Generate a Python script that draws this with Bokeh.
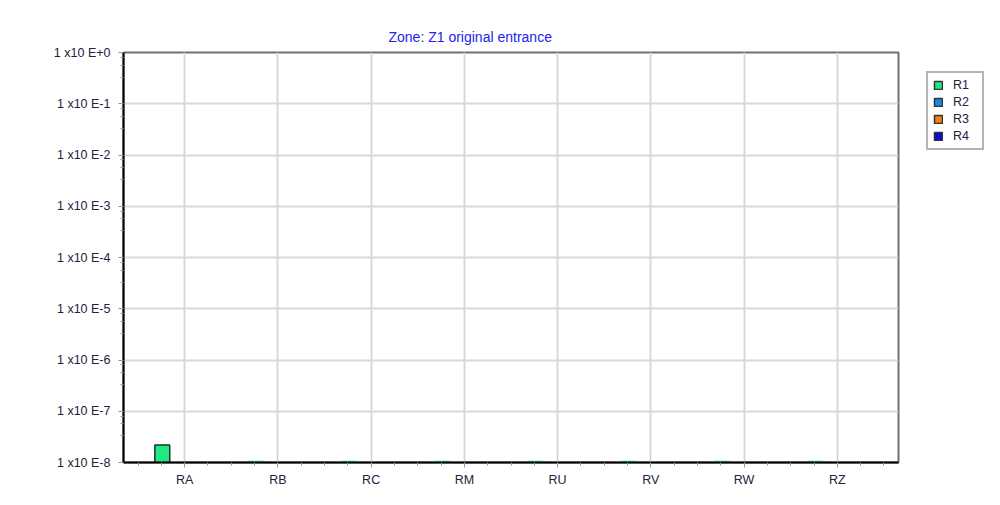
import numpy as np
from bokeh.plotting import figure
from bokeh.layouts import row
from bokeh.models import FixedTicker, Legend, LegendItem, ColumnDataSource, Range1d
from bokeh.embed import file_html
from bokeh.resources import INLINE

categories = ["RA", "RB", "RC", "RM", "RU", "RV", "RW", "RZ"]
series_names = ["R1", "R2", "R3", "R4"]
R1 = [2.2e-8, 1.05e-8, 1.05e-8, 1.05e-8, 1.05e-8, 1.05e-8, 1.05e-8, 1.05e-8]
R2 = [0, 0, 0, 0, 0, 0, 0, 0]
R3 = [0, 0, 0, 0, 0, 0, 0, 0]
R4 = [0, 0, 0, 0, 0, 0, 0, 0]
series_values = [R1, R2, R3, R4]
ytick_values = [1e-8, 1e-7, 1e-6, 1e-5, 1e-4, 1e-3, 1e-2, 1e-1, 1e0]
ytick_labels = ["1 x10 E-8", "1 x10 E-7", "1 x10 E-6", "1 x10 E-5", "1 x10 E-4",
                "1 x10 E-3", "1 x10 E-2", "1 x10 E-1", "1 x10 E+0"]
title_text = "Zone: Z1 original entrance"

colors = ["#22e884", "#1e84ea", "#f77f0c", "#0a0ae0"]
outline = "#1c3326"
floor = 1e-8
bar_w = 0.16
offsets = [-1.5 * bar_w, -0.5 * bar_w, 0.5 * bar_w, 1.5 * bar_w]
FONT = "Liberation Sans"
TXT = "#26203a"

p = figure(width=900, height=489, y_axis_type="log",
           output_backend="svg", toolbar_location=None,
           min_border_left=123, min_border_right=2, min_border_top=52, min_border_bottom=27)
p.x_range = Range1d(-0.656, len(categories) - 1 + 0.656)
p.y_range = Range1d(floor, 1e0)

p.title.text = title_text
p.title.align = "left"
p.title.offset = 265
p.title.text_font = FONT
p.title.text_font_size = "14px"
p.title.text_font_style = "normal"
p.title.text_color = "#2323ee"
p.title.standoff = 15

for name, vals, col, off in zip(series_names, series_values, colors, offsets):
    xs, tops, lcs = [], [], []
    for i, v in enumerate(vals):
        if v > 0:
            xs.append(i + off)
            tops.append(max(v, floor))
            lcs.append(outline if v > 1.5 * floor else col)
    src = ColumnDataSource(dict(x=xs, top=tops, lc=lcs))
    p.vbar(x="x", top="top", bottom=floor, width=bar_w, source=src,
           fill_color=col, line_color="lc", line_width=1.5)

# axes
xax = p.xaxis[0]
xax.ticker = FixedTicker(ticks=list(range(len(categories))),
                         minor_ticks=[i / 4 - 0.5 for i in range(0, 4 * len(categories) + 2)])
xax.major_label_overrides = {i: c for i, c in enumerate(categories)}
yax = p.yaxis[0]
minor = []
for t in ytick_values[:-1]:
    for m in [3.3, 5.7, 8.0]:
        minor.append(t * m)
yax.ticker = FixedTicker(ticks=ytick_values, minor_ticks=minor)
yax.major_label_overrides = {v: l for v, l in zip(ytick_values, ytick_labels)}

for ax in (xax, yax):
    ax.axis_line_color = "black"
    ax.axis_line_width = 2
    ax.major_tick_line_color = "#8a97a8"
    ax.minor_tick_line_color = "#8a97a8"
    ax.major_tick_out = 5
    ax.major_tick_in = 0
    ax.minor_tick_out = 3
    ax.minor_tick_in = 0
    ax.major_label_text_font = FONT
    ax.major_label_text_font_size = "12.5px"
    ax.major_label_text_color = TXT
xax.major_label_standoff = 5
yax.major_label_standoff = 8

p.xgrid.ticker = FixedTicker(ticks=list(range(len(categories))))
p.ygrid.ticker = FixedTicker(ticks=ytick_values)
p.xgrid.grid_line_color = "#d8d8d8"
p.ygrid.grid_line_color = "#d8d8d8"
p.xgrid.grid_line_width = 2
p.ygrid.grid_line_width = 2

p.outline_line_color = "#707070"
p.outline_line_width = 2
p.background_fill_color = "white"
p.border_fill_color = "white"

# legend panel (separate small figure, no axes)
lg = figure(width=84, height=489, output_backend="svg", toolbar_location=None,
            x_axis_location=None, y_axis_location=None,
            min_border_left=0, min_border_right=0, min_border_top=0, min_border_bottom=0)
lg.x_range = Range1d(0, 1)
lg.y_range = Range1d(0, 1)
lg.grid.visible = False
lg.outline_line_color = None
lg.border_fill_color = "white"
items = []
for name, col in zip(series_names, colors):
    rl = lg.vbar(x=[float("nan")], top=[float("nan")], bottom=0, width=0.1,
                 fill_color=col, line_color="#333333", line_width=1.5)
    items.append(LegendItem(label=name, renderers=[rl]))

legend = Legend(items=items, location=(26, 312))
legend.margin = 0
legend.border_line_color = "#6a6a6a"
legend.border_line_width = 2
legend.background_fill_color = "white"
legend.glyph_width = 10
legend.glyph_height = 10
legend.label_height = 13
legend.spacing = 3
legend.padding = 5
legend.label_standoff = 10
legend.label_width = 24
legend.label_text_font = FONT
legend.label_text_font_size = "12.5px"
legend.label_text_color = TXT
lg.add_layout(legend, "center")

layout = row(p, lg)
open("out.html", "w").write(file_html(layout, INLINE))
